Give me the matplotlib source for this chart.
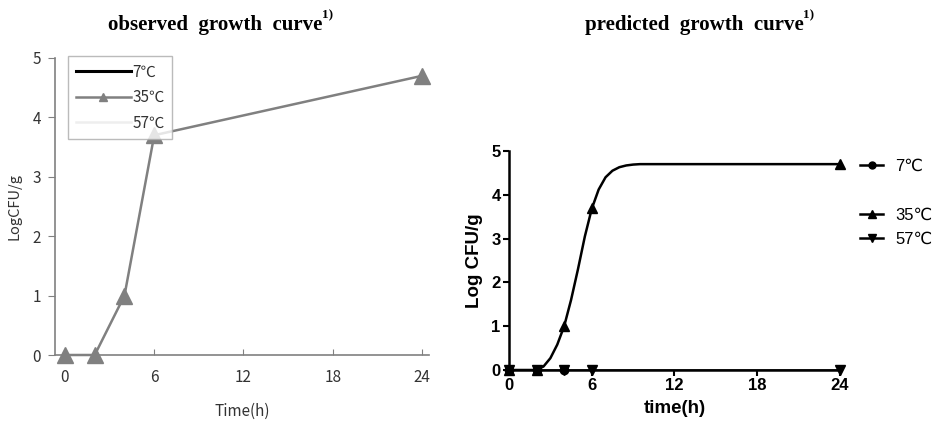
import matplotlib
matplotlib.use("Agg")
import matplotlib.pyplot as plt
from matplotlib.lines import Line2D

# observed data (left panel)
obs_time = [0, 2, 4, 6, 24]
obs_35 = [0, 0, 1.0, 3.7, 4.7]

# predicted curve for 35C
pred_time = [0, 2.0, 2.5, 3.0, 3.5, 4.0, 4.5, 5.0, 5.5, 6.0, 6.5, 7.0, 7.5, 8.0, 8.5, 9.0, 9.5, 10, 24]
pred_35 = [0, 0, 0.08, 0.27, 0.58, 1.0, 1.6, 2.3, 3.05, 3.68, 4.12, 4.4, 4.55, 4.63, 4.67, 4.69, 4.7, 4.7, 4.7]
pred_zero_time = [0, 24]
pred_zero = [0, 0]

# points shown on the predicted panel
pt_7_time = [0, 2, 4]
pt_7 = [0, 0, 0]
pt_35_time = [0, 2, 4, 6, 24]
pt_35 = [0, 0, 1.0, 3.7, 4.7]
pt_57_time = [0, 2, 4, 6, 24]
pt_57 = [0, 0, 0, 0, 0]

labels = ['7℃', '35℃', '57℃']
xticks = [0, 6, 12, 18, 24]
yticks = [0, 1, 2, 3, 4, 5]

fig = plt.figure(figsize=(9.36, 4.23), dpi=100)
W, H = 936, 423

def box(x0, y0, x1, y1):
    return [x0 / W, 1 - y1 / H, (x1 - x0) / W, (y1 - y0) / H]

# ---- left: observed ----
kr = ['Noto Sans CJK KR', 'DejaVu Sans']
gray = '#808080'
ax1 = fig.add_axes(box(55, 58, 429, 355))
ax1.plot(obs_time, obs_35, color=gray, lw=1.8, marker='^', ms=12,
         clip_on=False, zorder=5)
ax1.set_xlim(-0.67, 24.47)
ax1.set_ylim(0, 5)
ax1.set_xticks(xticks)
ax1.set_yticks(yticks)
for s in ['top', 'right']:
    ax1.spines[s].set_visible(False)
for s in ['left', 'bottom']:
    ax1.spines[s].set_color(gray)
    ax1.spines[s].set_linewidth(1.2)
ax1.tick_params(axis='y', direction='out', length=5, color=gray, labelcolor='#333333', labelsize=11, pad=5)
ax1.tick_params(axis='x', direction='in', length=4, color=gray, labelcolor='#333333', labelsize=11, pad=10)
for t in ax1.get_xticklabels() + ax1.get_yticklabels():
    t.set_family(kr)
ax1.set_xlabel('Time(h)', family=kr, fontsize=11, color='#333333', labelpad=12)
ax1.set_ylabel('LogCFU/g', family=kr, fontsize=10.5, color='#333333', labelpad=8)

h_obs = [Line2D([], [], color='black', lw=2.2),
         Line2D([], [], color=gray, lw=1.8, marker='^', ms=6),
         Line2D([], [], color='#eeeeee', lw=1.8)]
leg1 = ax1.legend(h_obs, labels, loc='upper left',
                  bbox_to_anchor=(68 / W, 1 - 56 / H), bbox_transform=fig.transFigure,
                  borderaxespad=0, fancybox=False, handlelength=3.6, handletextpad=0.1,
                  labelspacing=0.55, borderpad=0.5, prop={'family': kr, 'size': 11})
leg1.get_frame().set_edgecolor('#aaaaaa')
leg1.get_frame().set_linewidth(1.0)
for t in leg1.get_texts():
    t.set_color('#333333')

t1 = fig.text(215 / W, 1 - 25 / H, 'observed  growth  curve', ha='center', va='center',
              family='Liberation Serif', weight='bold', fontsize=15)
ax1.annotate('1)', xy=(1, 1), xycoords=t1, xytext=(0, 4), textcoords='offset points',
             ha='left', va='top', family='Liberation Serif', weight='bold', fontsize=9.5)

# ---- right: predicted ----
ar = ['Liberation Sans', 'DejaVu Sans']
ax2 = fig.add_axes(box(509, 151, 840, 370))
ax2.plot(pred_zero_time, pred_zero, color='black', lw=1.8, zorder=3)
ax2.plot(pred_time, pred_35, color='black', lw=1.8, zorder=3)
ax2.plot(pt_57_time, pt_57, ls='none', marker='v', ms=7, color='black', clip_on=False, zorder=4)
ax2.plot(pt_7_time, pt_7, ls='none', marker='o', ms=6, color='black', clip_on=False, zorder=4)
ax2.plot(pt_35_time, pt_35, ls='none', marker='^', ms=7, color='black', clip_on=False, zorder=4)
ax2.set_xlim(0, 24)
ax2.set_ylim(0, 5)
ax2.set_xticks(xticks)
ax2.set_yticks(yticks)
for s in ['top', 'right']:
    ax2.spines[s].set_visible(False)
for s in ['left', 'bottom']:
    ax2.spines[s].set_linewidth(1.8)
ax2.tick_params(direction='out', length=4, width=1.5, labelsize=12, pad=2)
for t in ax2.get_xticklabels() + ax2.get_yticklabels():
    t.set_family(ar)
    t.set_weight('bold')
ax2.set_xlabel('time(h)', family=ar, weight='bold', fontsize=13.5, labelpad=5)
ax2.set_ylabel('Log CFU/g', family=ar, weight='bold', fontsize=13.5, labelpad=6)

h_pred = [Line2D([], [], color='black', lw=1.8, marker='o', ms=5),
          Line2D([], [], ls='none'),
          Line2D([], [], color='black', lw=1.8, marker='^', ms=6),
          Line2D([], [], color='black', lw=1.8, marker='v', ms=6)]
leg2 = ax2.legend(h_pred, [labels[0], '', labels[1], labels[2]], loc='upper left',
                  bbox_to_anchor=(860 / W, 1 - 159 / H), bbox_transform=fig.transFigure,
                  borderaxespad=0, borderpad=0, frameon=False, handlelength=1.4,
                  handletextpad=0.7, labelspacing=0.56, prop={'family': ar, 'size': 12})

t2 = fig.text(694 / W, 1 - 25 / H, 'predicted  growth  curve', ha='center', va='center',
              family='Liberation Serif', weight='bold', fontsize=15)
ax2.annotate('1)', xy=(1, 1), xycoords=t2, xytext=(0, 4), textcoords='offset points',
             ha='left', va='top', family='Liberation Serif', weight='bold', fontsize=9.5)

fig.savefig('out.png', dpi=100)
